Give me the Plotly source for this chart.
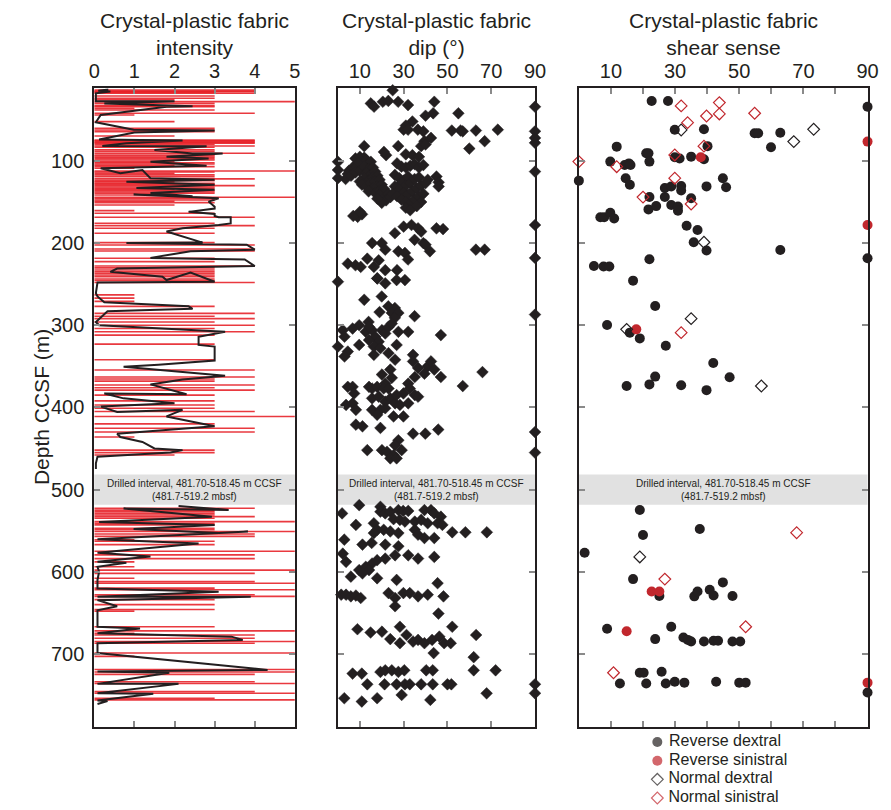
import plotly.graph_objects as go

# ---------------------------------------------------------------------------
# Crystal-plastic fabric intensity (rank 0-5) logged against depth
# ---------------------------------------------------------------------------
fabric_depth = [
    13.6, 14.8, 15.7, 16.6, 17.7, 20.9, 23.8, 25.5, 27.8, 29.9, 32.7, 33.9, 36.0, 38.0,
    42.0, 44.1, 52.2, 60.3, 62.3, 64.3, 69.6, 74.5, 75.5, 76.5, 77.5, 78.5, 80.0, 81.8,
    83.4, 86.6, 88.5, 90.7, 92.7, 94.0, 95.6, 97.2, 98.8, 100.8, 102.2, 103.7, 105.3, 106.9,
    109.0, 112.2, 113.5, 115.0, 117.0, 119.1, 121.9, 124.0, 125.5, 127.2, 128.5, 130.0, 131.8,
    133.3, 134.7, 136.1, 137.8, 139.4, 141.4, 144.3, 145.8, 147.5, 149.0, 150.8, 153.6, 160.5,
    163.7, 168.6, 175.9, 178.7, 182.0, 188.1, 199.4, 202.3, 207.2, 209.6, 218.5, 222.6, 227.8,
    230.2, 232.7, 234.8, 236.8, 238.8, 240.8, 243.7, 245.5, 248.0, 263.0, 267.0, 271.0, 277.0,
    285.5, 289.0, 292.0, 296.0, 300.0, 304.0, 308.0, 312.0, 323.0, 342.0, 354.5, 363.0, 365.5,
    368.0, 372.7, 376.0, 379.0, 385.0, 392.0, 397.0, 401.0, 405.0, 411.0, 420.0, 425.4, 430.0,
    436.0, 452.0, 455.0, 458.0,
    522.8, 525.0, 527.0, 529.0, 531.0, 533.0, 535.0, 539.0, 541.0, 543.0, 547.0, 549.0, 551.0,
    554.0, 557.0, 561.0, 563.0, 567.0, 575.0, 579.5, 584.0, 588.0, 594.0, 598.0, 602.0, 608.0,
    612.0, 614.0, 620.0, 622.0, 628.0, 630.0, 634.0, 640.0, 646.0, 648.0, 667.0, 672.0, 675.0,
    677.0, 681.0, 685.0, 687.0, 699.0, 703.0, 719.0, 722.0, 725.0, 734.0, 736.0, 746.0, 748.0,
    754.0, 756.0,
]
fabric_rank = [
    4, 4, 4, 3, 4, 3, 3, 2, 5, 3, 3, 3, 1, 3,
    4, 1, 2, 3, 3, 3, 2, 4, 4, 4, 4, 4, 3, 4,
    3, 3, 3, 4, 3, 3, 3, 3, 3, 2, 3, 3, 2, 3,
    1, 5, 3, 2, 3, 3, 4, 3, 2, 3, 3, 4, 3,
    3, 2, 3, 3, 3, 2, 5, 3, 3, 2, 3, 2, 1,
    3, 4, 3, 4, 3, 3, 3, 4, 4, 4, 3, 3, 4,
    3, 3, 3, 3, 3, 3, 3, 3, 4, 1, 1, 1, 3,
    4, 3, 4, 3, 4, 3, 4, 3, 3, 3, 4, 4, 3,
    3, 4, 3, 4, 3, 3, 3, 3, 4, 5, 3, 4, 4,
    1, 3, 3, 2,
    4, 3, 3, 3, 3, 4, 3, 5, 3, 3, 3, 3, 5,
    4, 4, 1, 3, 3, 5, 4, 4, 1, 1, 5, 4, 1,
    4, 5, 3, 5, 4, 5, 3, 3, 3, 1, 3, 5, 1,
    4, 4, 5, 4, 5, 1, 5, 5, 4, 4, 5, 4, 5,
    3, 5,
]

# Running mean of the fabric rank (None marks the drilled, unrecovered interval)
mean_depth = [
    13.0, 14.5, 15.5, 17.7, 27.5, 27.3, 30.0, 33.5, 34.0, 44.0, 53.0, 62.0, 63.0, 65.5,
    74.0, 75.0, 78.5, 81.8, 82.0, 86.6, 91.0, 91.0, 94.8, 97.0, 101.0, 106.0, 109.0, 115.0,
    111.0, 121.0, 123.0, 125.2, 129.0, 133.0, 135.0, 139.0, 143.0, 141.0, 145.5, 149.5, 155.6,
    158.0, 162.0, 164.5, 167.0, 168.6, 168.6, 176.0, 178.0, 182.0, 186.0, 199.4, 200.0, 202.0,
    208.0, 210.0, 218.0, 220.0, 228.0, 231.0, 235.0, 241.0, 245.0, 236.0, 247.0, 248.0, 261.0,
    265.0, 272.0, 277.0, 280.0, 283.0, 296.0, 300.0, 308.0, 314.0, 324.0, 326.0, 336.0, 343.0,
    348.0, 350.5, 361.5, 366.0, 372.0, 384.0, 383.0, 389.0, 395.0, 399.0, 405.5, 403.0, 411.0,
    423.0, 432.0, 436.0, 442.0, 450.0, 452.0, 455.0, 460.0, 468.0, 475.0, None,
    520.0, 525.0, 523.0, 529.0, 533.0, 539.5, 543.0, 548.0, 553.0, 551.0, 560.5, 565.5, 571.5,
    577.0, 581.5, 588.0, 589.0, 594.0, 600.0, 610.0, 620.5, 624.5, 630.6, 630.6, 634.6, 642.0,
    647.0, 667.0, 669.0, 675.0, 679.0, 683.0, 687.0, 699.0, 719.5, 721.5, 723.0, 736.5, 736.5,
    747.8, 748.6, 756.7, 757.5, 761.0,
]
mean_rank = [
    0.35, 0.10, 0.40, 0.04, 0.04, 2.00, 0.25, 2.45, 1.80, 0.16, 0.04, 0.98, 3.00, 1.00,
    0.12, 2.20, 0.80, 0.20, 2.80, 1.50, 2.45, 3.20, 1.80, 2.85, 1.40, 2.80, 0.16, 0.65,
    1.20, 1.40, 3.00, 0.80, 3.00, 1.05, 3.00, 1.40, 2.45, 0.98, 3.10, 2.85, 3.00,
    3.00, 2.35, 3.00, 3.00, 3.10, 3.40, 3.40, 3.10, 2.20, 1.80, 2.70, 0.80, 3.80,
    4.00, 2.40, 1.40, 3.75, 4.00, 0.57, 0.40, 1.70, 1.80, 2.40, 3.00, 0.08, 0.04,
    0.08, 0.25, 2.35, 2.45, 0.33, 0.04, 0.12, 3.26, 2.60, 2.60, 3.00, 3.00, 3.00,
    1.60, 0.73, 3.26, 2.20, 1.40, 2.30, 0.25, 0.73, 2.00, 0.16, 0.57, 2.20, 1.80,
    3.00, 0.57, 0.65, 1.20, 1.50, 2.20, 1.90, 0.08, 0.04, 0.04, None,
    2.10, 3.35, 0.73, 2.10, 2.93, 0.12, 3.00, 0.98, 3.10, 3.83, 0.08, 2.60, 1.30,
    0.08, 1.40, 0.08, 0.80, 0.08, 0.12, 0.08, 0.08, 3.10, 0.08, 3.90, 0.08, 0.57,
    0.08, 0.08, 1.14, 0.08, 3.42, 3.70, 0.08, 0.08, 4.32, 0.08, 1.87, 0.08, 2.10,
    0.08, 1.47, 0.08, 0.33, 0.08,
]

# ---------------------------------------------------------------------------
# Crystal-plastic fabric dip (degrees) against depth
# ---------------------------------------------------------------------------
dip_deg = [
    25, 15, 16.5, 20.5, 23, 27.5, 32, 44, 43.5, 40, 55, 34, 31, 30, 32, 36.5, 39, 52, 56, 57,
    63, 73, 42.5, 39.5, 38, 40, 27.5, 67, 60, 12, 31, 34, 37, 22, 21,
    8, 10, 12, 11, 13, 9, 14, 15, 6.7, 7.5, 5, 4.5, 3.5, 6, 8, 10, 12, 14, 16, 13, 15, 17, 12,
    14, 16, 18, 10, 11, 13, 15, 17, 19, 16, 18, 20, 14, 17, 19, 21, 19, 21, 23, 22, 20, 24, 18,
    11, 9, 7, 10,
    27, 29, 31, 33, 35, 37, 39, 26, 28, 30, 32, 29, 31, 33, 35, 37, 26, 28, 30, 32, 34, 36, 38,
    40, 41, 25, 27, 29, 31, 33, 35, 37, 39, 38, 36, 31, 33, 45, 46, 46, 0, 0, 0,
    26, 30, 33.6, 36.6, 38, 45, 48, 35, 39, 40, 42, 15.6, 20, 21.6, 27.6, 30.6, 32, 63, 67,
    4.5, 8, 10.4, 13.4, 16.4, 18.6, 21.6, 18, 27, 26.8, 30.6, 17.9, 21.6, 0,
    12, 20, 23, 26, 24.6, 27.6, 26, 19, 35, 14, 9.7,
    2.2, 3, 0, 4.5, 3, 9.7, 12.7, 15.6, 17.1, 18.6, 20.1, 21.6, 23.1, 27.6, 32.1, 26.8, 16.4,
    23.1, 26.1, 34.3, 34.3, 47, 14.2, 16.4, 19.4, 14.2, 24.6, 6.7,
    36.6, 41, 42.5, 44, 47, 35.1, 39.5, 66, 57, 20.1, 23.9, 24.6, 21.6, 32.1, 32.8, 4.5, 6.7,
    7.4, 14.2, 15.6, 17.9, 20.9, 23.1, 15.6, 18.6, 21.6, 23.9, 26.1, 28.3, 32.1, 35.1, 36.6,
    29.9, 26.8,
    3.7, 6.7, 8.2, 15.6, 19.4, 21.6, 25.4, 29.9, 17.9, 8.2, 11.2, 19.4, 34.3, 39.9, 45.8, 13.4,
    20.1, 22.4, 25.4, 27.6, 29.1, 23.9, 26.8, 26.1,
    90, 90, 90, 90, 90, 90, 90, 90, 90, 90,
    9.7, 1.9, 8.2, 19.4, 19.4, 21.6, 23.9, 27.6, 29.8, 32.1, 39.5, 42.5, 44, 47, 25.4, 28.3,
    30.6, 35.1, 38, 41, 45.5, 16.4, 17.9, 16.4, 20.9, 23.9, 27.6, 35.1, 36.6, 39.5, 44, 47.7,
    52.2, 58.2, 68, 2.9, 11.2, 15.4, 21.6, 27.6, 2.2, 3.7, 5.9, 9.7, 12.7, 15.6, 17.9, 21.6,
    26.1, 32.1, 36.6, 44, 17.9, 14.2, 11.2,
    1.5, 3.7, 5.9, 8.2, 10.4, 23.1, 26.1, 29.9, 32.8, 36.6, 41, 45.5, 48.2, 26.1, 45.9, 26.8,
    8.9, 14.9, 20.1, 23.9, 28.3, 28.3, 31.3, 34.3, 36.6, 39.5, 43, 46.3, 48.5, 51.5, 52.2,
    43.7, 63.1, 62, 62, 72,
    6.7, 10.9, 13.4, 19.4, 21.6, 24.6, 27.6, 30.3, 21.3, 26.8, 30.6, 32.8, 38, 43.3, 40.3,
    43.3, 50, 51.8,
    67.9, 2.9, 10.9, 17.9, 29.1, 42.2, 90, 90,
]
dip_depth = [
    14, 30, 34, 28, 27, 28, 32, 28, 42, 45, 42, 52, 57, 62, 62, 62, 64, 63, 63, 64,
    63, 62, 72, 76, 82, 80, 82, 76, 85, 82, 92, 93, 95, 93, 89,
    97, 95, 96, 101, 99, 103, 104, 101, 108, 110, 112, 116, 122, 118, 114, 112, 107, 110, 108,
    115, 117, 113, 121, 124, 120, 118, 125, 129, 131, 127, 125, 123, 133, 131, 129, 137, 139,
    136, 134, 141, 145, 140, 148, 151, 144, 146, 165, 168, 167, 162,
    103, 107, 108, 106, 104, 108, 105, 117, 121, 124, 119, 127, 130, 127, 122, 120, 131, 135,
    139, 141, 137, 133, 130, 127, 123, 140, 143, 147, 150, 152, 147, 143, 140, 150, 155, 157,
    160, 119, 126, 131, 101, 111, 121,
    188, 180, 178, 182, 186, 182, 183, 196, 200, 202, 210, 200, 200, 208, 210, 212, 220, 208,
    208, 225, 227, 229, 219, 229, 221, 233, 243, 233, 245, 245, 243, 249, 247,
    269, 265, 277, 279, 285, 285, 291, 284, 289, 296, 300,
    306, 314, 326, 332, 338, 324, 308, 306, 314, 320, 306, 310, 302, 308, 308, 324, 336, 334,
    342, 336, 344, 312, 302, 326, 328, 318, 298, 304,
    352, 350, 344, 354, 363, 363, 359, 357, 374, 360, 354, 364, 371, 371, 377, 375, 375, 383,
    375, 377, 375, 377, 377, 389, 387, 393, 389, 395, 397, 395, 385, 387, 383, 385,
    397, 395, 403, 403, 403, 401, 411, 411, 409, 421, 423, 425, 432, 432, 427, 452, 452, 454,
    458, 440, 452, 462, 462, 446,
    34, 64, 72, 78, 113, 178, 218, 287, 430, 455,
    519, 529, 543, 521, 527, 529, 527, 525, 526, 526, 525, 525, 529, 533, 536, 537, 539, 539,
    537, 541, 541, 541, 549, 553, 549, 551, 553, 549, 555, 559, 559, 543, 552, 552, 552, 561,
    567, 565, 567, 569, 578, 588, 606, 598, 594, 590, 586, 584, 580, 580, 584, 582, 608, 598,
    602,
    628, 628, 630, 629, 632, 626, 632, 626, 626, 630, 628, 614, 630, 642, 651, 610,
    670, 674, 673, 682, 667, 687, 677, 685, 683, 687, 683, 679, 687, 687, 667, 699, 677, 704,
    720, 720,
    724, 724, 737, 722, 720, 720, 722, 720, 737, 737, 737, 737, 737, 737, 720, 720, 737, 737,
    748, 754, 758, 754, 750, 756, 737, 748,
]

# ---------------------------------------------------------------------------
# Shear sense: dip (degrees) and depth for each kinematic category
# ---------------------------------------------------------------------------
shear_categories = ["Reverse dextral", "Reverse sinistral", "Normal dextral", "Normal sinistral"]

rev_dex_deg = [
    22.7, 27.8, 29.9, 39, 40.1, 54.8, 55.9, 62.8, 59.9, 11.8, 9.8, 14.3, 15.6, 16.1, 21, 21.7,
    22, 29.9, 31.4, 35, 39, 0, 14.6, 15.9, 26.8, 28.8, 31.9, 31.9, 39.8, 44.9, 45.9, 22, 26.8,
    35, 21.7, 24.1, 28.8, 30.9, 30.9, 6.7, 7.9, 9.8, 11, 33.6, 37, 35.8, 39.8, 62.8, 90, 90,
    22, 4.7, 7.7, 9.5, 16.9, 23.8, 8.8, 15.9, 19, 27.1, 41.9, 47, 23.8, 22, 14.9, 31.9, 39.8,
    19, 37.7, 20, 1.8, 16.9, 25.1, 36, 37, 40.8, 42, 44.9, 47.9, 8.8, 28.8, 23.8, 32.6, 34,
    35, 39, 42, 43.4, 47.9, 50.3, 19, 20.2, 25.8, 12.8, 21, 27.1, 29.9, 32.9, 42.8, 50, 52,
    90,
]
rev_dex_depth = [
    27, 27, 62, 61.5, 82, 66.4, 66.4, 65.6, 83.4, 82.6, 100.8, 105, 103, 105, 90.7, 90.7,
    100.8, 95.6, 97, 94.8, 98, 124, 121, 129, 133, 131, 130.5, 136, 131, 121, 132, 144, 144,
    145.5, 159, 155, 153.6, 155.6, 160.5, 168.6, 168.6, 163, 170, 179, 184, 199, 209, 208.4,
    34, 218.5, 219.7, 227.8, 228.6, 228.6, 245.7, 276.5, 299.7, 309, 316, 325, 346, 363.4,
    362.5, 372, 374, 373, 379, 524.8, 548, 555.3, 577, 609, 629.5, 630, 624, 622, 629, 613,
    629.5, 669.5, 667, 682, 680, 683, 685, 685, 684, 684, 685, 685, 722.9, 722.9, 721.7, 736,
    736, 736, 734, 735, 734, 735, 735, 747,
]
rev_sin_deg = [38, 90, 90, 17.9, 22.7, 25.1, 14.9, 90]
rev_sin_depth = [95.6, 76.5, 178, 305, 624, 624, 672.4, 735]
norm_dex_deg = [31.9, 67, 73.2, 39, 14.9, 35, 56.9, 19]
norm_dex_depth = [62.3, 76.5, 61.5, 199, 305, 292, 374, 582]
norm_sin_deg = [
    31.9, 43.8, 43.8, 39.8, 54.8, 33.9, 39, 29.9, 0, 11.8, 29.9, 20, 35, 31.9, 67.9, 26.8,
    52, 10.8,
]
norm_sin_depth = [
    33, 29, 42.8, 45.3, 42, 53.4, 82, 92.7, 100.8, 107, 121, 144, 152.4, 309, 552.5, 609,
    667, 723,
]

drilled_top, drilled_base = 481.70, 518.45
drilled_label = "Drilled interval, 481.70-518.45 m CCSF<br>(481.7-519.2 mbsf)"

panel_titles = [
    "Crystal-plastic fabric<br>intensity",
    "Crystal-plastic fabric<br>dip (°)",
    "Crystal-plastic fabric<br>shear sense",
]

# ---------------------------------------------------------------------------
INK = "#231f20"
RED_BAR = "rgba(230,30,36,0.88)"
RED_PT = "#c1272d"
TICK = "#8a8a8a"
FONT = "Liberation Sans, Arial, sans-serif"

W, H = 891, 810
PLOT_TOP, PLOT_BOT = 88.3, 727.0
DEPTH_RANGE = [789.0, 11.6]

shear_style = {
    "Reverse dextral": dict(symbol="circle", color=INK, line=dict(color=INK, width=0), size=10),
    "Reverse sinistral": dict(symbol="circle", color=RED_PT, line=dict(color=RED_PT, width=0), size=10),
    "Normal dextral": dict(symbol="diamond-open", color=INK, line=dict(color=INK, width=1.2), size=9),
    "Normal sinistral": dict(symbol="diamond-open", color=RED_PT, line=dict(color=RED_PT, width=1.2), size=9),
}

fig = go.Figure()

# Intensity: one horizontal stick per logged interval, from 0 to the rank
bar_x, bar_y = [], []
for d, r in zip(fabric_depth, fabric_rank):
    bar_x += [0, r, None]
    bar_y += [d, d, None]
fig.add_trace(go.Scatter(x=bar_x, y=bar_y, mode="lines", xaxis="x", yaxis="y",
                         line=dict(color=RED_BAR, width=1.6), hoverinfo="skip",
                         showlegend=False))
fig.add_trace(go.Scatter(x=mean_rank, y=mean_depth, mode="lines", xaxis="x", yaxis="y",
                         line=dict(color=INK, width=2), connectgaps=False,
                         showlegend=False))

# Dip
fig.add_trace(go.Scatter(x=dip_deg, y=dip_depth, mode="markers", xaxis="x2", yaxis="y2",
                         marker=dict(symbol="diamond", size=9, color=INK,
                                     line=dict(color=INK, width=0.5)),
                         cliponaxis=False, showlegend=False))

# Shear sense
shear_data = {
    "Reverse dextral": (rev_dex_deg, rev_dex_depth),
    "Reverse sinistral": (rev_sin_deg, rev_sin_depth),
    "Normal dextral": (norm_dex_deg, norm_dex_depth),
    "Normal sinistral": (norm_sin_deg, norm_sin_depth),
}
for cat in shear_categories:
    xs, ys = shear_data[cat]
    fig.add_trace(go.Scatter(x=xs, y=ys, mode="markers", xaxis="x3", yaxis="y3", name=cat,
                             marker=shear_style[cat], cliponaxis=False, showlegend=False))

# Key for the shear-sense symbols, stacked under the right-hand panel
fig.add_trace(go.Scatter(
    x=[0] * len(shear_categories), y=list(range(len(shear_categories))),
    xaxis="x4", yaxis="y4", mode="markers+text",
    text=["\u00a0" + c for c in shear_categories],
    textposition="middle right", textfont=dict(size=16, color=INK, family=FONT),
    marker=dict(symbol=[shear_style[c]["symbol"] for c in shear_categories],
                color=[shear_style[c]["color"] for c in shear_categories],
                line=dict(color=[shear_style[c]["line"]["color"] for c in shear_categories],
                          width=[shear_style[c]["line"]["width"] for c in shear_categories]),
                size=[shear_style[c]["size"] for c in shear_categories]),
    cliponaxis=False, showlegend=False, hoverinfo="skip"))


def px_x(p):
    return p / W


def px_y(p):
    return 1 - p / H


y_dom = [px_y(PLOT_BOT), px_y(PLOT_TOP)]
x_doms = [[px_x(90.0), px_x(294.5)], [px_x(338.4), px_x(539.3)], [px_x(584.0), px_x(878.3)]]

axis_common = dict(showline=True, linewidth=2, linecolor=INK, mirror="allticks",
                   ticks="inside", ticklen=6, tickwidth=1.5, tickcolor=TICK,
                   showgrid=False, zeroline=False,
                   tickfont=dict(size=20, color=INK, family=FONT))

fig.update_layout(
    width=W, height=H, margin=dict(l=0, r=0, t=0, b=0),
    paper_bgcolor="white", plot_bgcolor="white",
    font=dict(family=FONT, color=INK),
    xaxis=dict(domain=x_doms[0], range=[0, 5], side="top", anchor="y",
               tickvals=[0, 1, 2, 3, 4, 5], **axis_common),
    yaxis=dict(domain=y_dom, range=DEPTH_RANGE, anchor="x",
               tickvals=[100, 200, 300, 400, 500, 600, 700], ticklabelstandoff=4,
               **axis_common),
    xaxis2=dict(domain=x_doms[1], range=[0, 90], side="top", anchor="y2",
                tickvals=[10, 30, 50, 70, 90], **axis_common),
    yaxis2=dict(domain=y_dom, range=DEPTH_RANGE, anchor="x2", showticklabels=False,
                tickvals=[100, 200, 300, 400, 500, 600, 700], **axis_common),
    xaxis3=dict(domain=x_doms[2], range=[0, 90], side="top", anchor="y3",
                tickvals=list(range(10, 91, 10)),
                ticktext=["10", "", "30", "", "50", "", "70", "", "90"], **axis_common),
    yaxis3=dict(domain=y_dom, range=DEPTH_RANGE, anchor="x3", showticklabels=False,
                tickvals=[100, 200, 300, 400, 500, 600, 700], **axis_common),
    xaxis4=dict(domain=[px_x(664), 1.0], range=[0, 1], anchor="y4", visible=False),
    yaxis4=dict(domain=[px_y(807.3), px_y(732.7)], range=[3.5, -0.5], anchor="x4", visible=False),
)

shapes, annotations = [], []
for i, ax in enumerate(["x", "x2", "x3"]):
    yref = "y" if ax == "x" else "y" + ax[1:]
    shapes.append(dict(type="rect", xref=f"{ax} domain", yref=yref, x0=0, x1=1,
                       y0=drilled_top, y1=drilled_base, fillcolor="#e1e1e1",
                       line=dict(width=0), layer="below"))
    annotations.append(dict(xref=f"{ax} domain", yref=yref, x=0.5, y=(drilled_top + drilled_base) / 2,
                            text=drilled_label, showarrow=False,
                            font=dict(size=10, color=INK, family=FONT)))
    annotations.append(dict(xref="paper", yref="paper", x=sum(x_doms[i]) / 2, y=px_y(34),
                            text=panel_titles[i], showarrow=False, xanchor="center",
                            yanchor="middle", font=dict(size=21, color=INK, family=FONT)))

annotations.append(dict(xref="paper", yref="paper", x=px_x(22), y=px_y(407),
                        text="Depth CCSF (m)", textangle=-90, showarrow=False,
                        font=dict(size=21, color=INK, family=FONT)))

fig.update_layout(shapes=shapes, annotations=annotations)

fig.write_html("out.html")
